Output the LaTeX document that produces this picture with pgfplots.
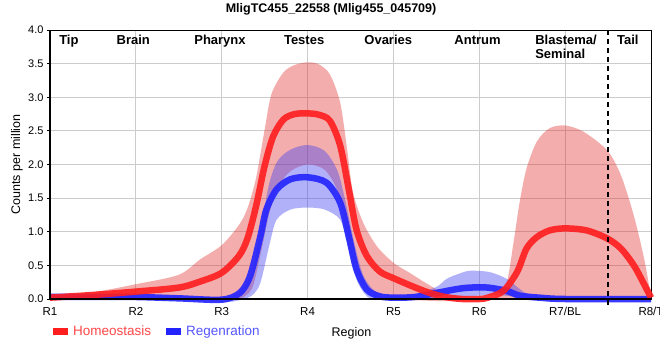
\documentclass[border=0pt]{standalone}
\usepackage{fontspec}
\setmainfont{Liberation Sans}
\usepackage{pgfplots}
\pgfplotsset{compat=1.18}
\usepgfplotslibrary{fillbetween}

\definecolor{hred}{RGB}{255,30,30}
\definecolor{rblue}{RGB}{35,35,255}
\definecolor{bandred}{RGB}{225,40,40}
\definecolor{bandblue}{RGB}{60,60,240}
\definecolor{legred}{RGB}{255,70,70}
\definecolor{legblue}{RGB}{85,85,255}

\begin{document}
\begin{tikzpicture}
\begin{axis}[
  at={(0,0)}, anchor=south west,
  scale only axis, width=601bp, height=269bp,
  xmin=1, xmax=8, ymin=0, ymax=4,
  clip=false,
  xtick={1,2,3,4,5,6,7,8},
  xticklabels={R1,R2,R3,R4,R5,R6,R7/BL,R8/T},
  ytick={0,0.5,1,1.5,2,2.5,3,3.5,4},
  xtick pos=bottom, ytick pos=left,
  tick align=outside, major tick length=3bp,
  xtick style={draw=none},
  ytick style={black, line width=0.8bp},
  yticklabel style={font=\fontsize{11bp}{13bp}\selectfont,
    /pgf/number format/.cd, fixed, fixed zerofill, precision=1, assume math mode=true},
  xticklabel style={font=\fontsize{11.5bp}{13bp}\selectfont, yshift=-2bp},
  grid=major, grid style={draw=black!20, line width=0.8bp},
  axis line style={black, line width=0.8bp},
  legend style={at={(axis description cs:0.0,-0.083)}, anchor=north west,
    draw=none, fill=none, legend columns=2,
    font=\fontsize{13.5bp}{15bp}\selectfont,
    /tikz/every odd column/.append style={column sep=3bp},
    /tikz/every even column/.append style={column sep=13bp}},
  legend image code/.code={\fill[#1] (0bp,-3.5bp) rectangle (15bp,3.5bp);},
]
% red band
\addplot[name path=hu, draw=none, smooth, forget plot] coordinates {
(1,0.03)(1.5,0.1)(2,0.22)(2.5,0.36)(2.75,0.59)(3,0.8)(3.2,1.1)(3.3,1.35)(3.4,1.8)(3.5,2.52)(3.58,3.05)(3.72,3.37)(3.85,3.48)(4,3.52)(4.13,3.49)(4.26,3.34)(4.38,2.92)(4.46,2.23)(4.53,1.58)(4.65,1.13)(4.81,0.78)(5,0.54)(5.2,0.38)(5.4,0.22)(5.6,0.08)(5.8,0.02)(6,0.0)(6.2,0.02)(6.32,0.25)(6.4,0.85)(6.47,1.44)(6.55,1.94)(6.67,2.34)(6.82,2.54)(7,2.58)(7.21,2.49)(7.49,2.21)(7.65,1.84)(7.8,1.24)(7.92,0.6)(8,0.03)};
\addplot[name path=hl, draw=none, smooth, forget plot] coordinates {
(1,0.0)(2,0.0)(3,0.0)(3.2,0.0)(3.35,0.15)(3.45,0.65)(3.55,1.25)(3.65,1.65)(3.8,1.9)(4,2.0)(4.2,1.92)(4.35,1.6)(4.45,1.0)(4.55,0.45)(4.7,0.1)(4.85,0.02)(5,0.0)(5.5,-0.03)(6,-0.03)(6.25,0.0)(7,0.0)(8,0.0)};
\addplot[fill=bandred, fill opacity=0.38, draw=none, forget plot] fill between[of=hu and hl];
% blue band
\addplot[name path=bu, draw=none, smooth, forget plot] coordinates {
(1,0.05)(2,0.05)(2.5,0.04)(3,0.02)(3.2,0.1)(3.35,0.4)(3.45,1.0)(3.55,1.7)(3.65,2.05)(3.8,2.22)(4,2.29)(4.2,2.2)(4.35,1.9)(4.45,1.4)(4.55,0.8)(4.65,0.35)(4.8,0.1)(5,0.05)(5.25,0.07)(5.5,0.18)(5.62,0.3)(5.75,0.37)(5.89,0.42)(6.12,0.4)(6.32,0.3)(6.47,0.15)(6.59,0.07)(7,0.02)(8,0.02)};
\addplot[name path=bl, draw=none, smooth, forget plot] coordinates {
(1,0.0)(2,0.0)(3,-0.04)(3.2,-0.02)(3.35,0.05)(3.45,0.24)(3.56,0.83)(3.64,1.18)(3.8,1.33)(4,1.36)(4.2,1.33)(4.38,1.18)(4.46,0.83)(4.57,0.29)(4.7,0.03)(4.85,-0.01)(5.5,0.0)(6,0.05)(6.3,0.05)(6.6,0.0)(7,-0.01)(8,-0.01)};
\addplot[fill=bandblue, fill opacity=0.4, draw=none, forget plot] fill between[of=bu and bl];
% blue line
\addplot[rblue, line width=6.5bp, opacity=0.9, smooth, forget plot] coordinates {
(1,0.03)(1.5,0.03)(2,0.03)(2.5,0.01)(3,-0.01)(3.21,0.09)(3.33,0.34)(3.45,0.93)(3.52,1.33)(3.64,1.63)(3.8,1.78)(4,1.81)(4.22,1.73)(4.38,1.43)(4.48,0.93)(4.57,0.44)(4.69,0.14)(4.84,0.04)(5,0.02)(5.25,0.03)(5.5,0.09)(5.75,0.15)(5.9,0.17)(6.1,0.17)(6.32,0.12)(6.47,0.05)(6.7,0.02)(7,0.0)(8,0.0)};
% red line
\addplot[hred, line width=6.5bp, opacity=0.9, smooth, forget plot] coordinates {
(1,0.02)(1.5,0.06)(2,0.11)(2.5,0.17)(2.75,0.26)(3,0.39)(3.2,0.64)(3.3,0.9)(3.4,1.38)(3.5,1.98)(3.6,2.42)(3.72,2.67)(3.85,2.75)(4,2.76)(4.13,2.74)(4.26,2.65)(4.38,2.28)(4.48,1.63)(4.57,1.03)(4.69,0.64)(4.84,0.41)(5,0.31)(5.2,0.2)(5.4,0.1)(5.6,0.03)(5.8,0.0)(6,0.0)(6.1,0.02)(6.28,0.12)(6.44,0.4)(6.55,0.75)(6.67,0.92)(6.82,1.02)(7,1.05)(7.25,1.02)(7.49,0.9)(7.65,0.75)(7.8,0.5)(7.92,0.22)(8,0.02)};
% dashed divider
\addplot[black, line width=2bp, dash pattern=on 5bp off 4bp, forget plot] coordinates {(7.5,4) (7.5,-0.1)};
% thick axes
\draw[black, line width=2.5bp] (rel axis cs:0,1) -- (rel axis cs:0,0) -- (rel axis cs:1,0);
% region labels
\begin{scope}[every node/.style={font=\bfseries\fontsize{13bp}{15bp}\selectfont, inner sep=0pt}]
\node[anchor=base] at (axis cs:1.22,3.785) {Tip};
\node[anchor=base] at (axis cs:1.97,3.785) {Brain};
\node[anchor=base] at (axis cs:2.98,3.785) {Pharynx};
\node[anchor=base] at (axis cs:3.96,3.785) {Testes};
\node[anchor=base] at (axis cs:4.94,3.785) {Ovaries};
\node[anchor=base] at (axis cs:5.98,3.785) {Antrum};
\node[anchor=base west] at (axis cs:6.65,3.785) {Blastema/};
\node[anchor=base west] at (axis cs:6.65,3.58) {Seminal};
\node[anchor=base] at (axis cs:7.73,3.785) {Tail};
\end{scope}
% title and labels
\node[font=\bfseries\fontsize{12.5bp}{14bp}\selectfont, anchor=base] at (axis description cs:0.4676,1) [yshift=17.3bp] {MligTC455\_22558 (Mlig455\_045709)};
\node[font=\fontsize{12.5bp}{14bp}\selectfont, anchor=base] at (axis description cs:0.5017,0) [yshift=-37bp] {Region};
\node[font=\fontsize{12.5bp}{14bp}\selectfont, rotate=90, anchor=center] at (axis description cs:-0.055,0.5) {Counts per million};
\addlegendimage{fill=hred, draw=none}
\addlegendentry{\textcolor{legred}{Homeostasis}}
\addlegendimage{fill=rblue, draw=none}
\addlegendentry{\textcolor{legblue}{Regenration}}
\end{axis}
\pgfresetboundingbox
\path (-50bp,-61bp) rectangle (610bp,299bp);
\end{tikzpicture}
\end{document}
